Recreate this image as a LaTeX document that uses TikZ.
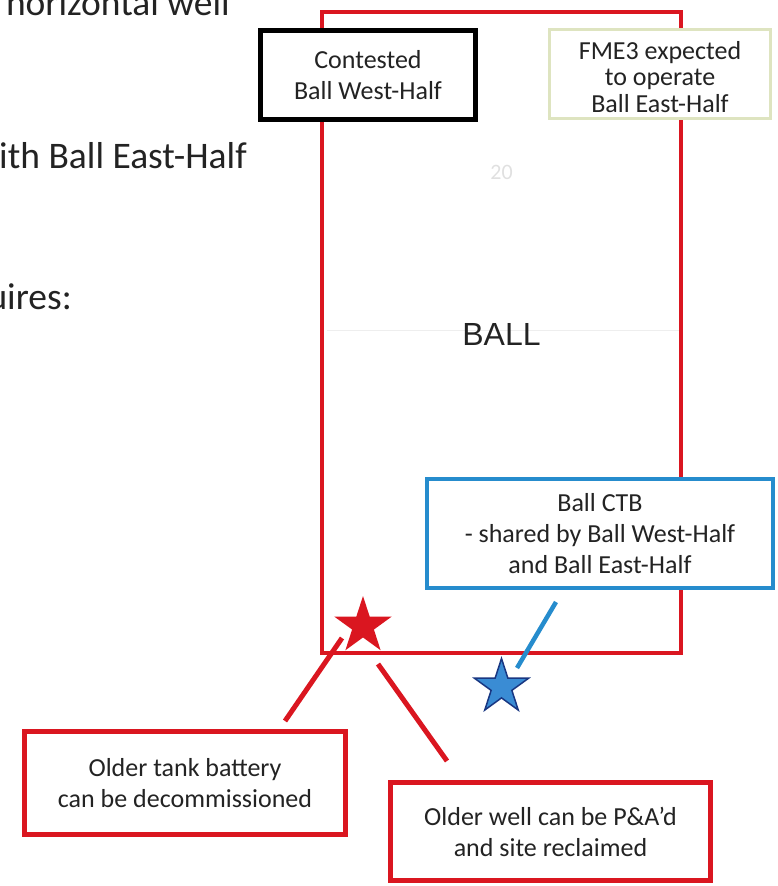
\documentclass[tikz,border=0pt]{standalone}
\usepackage{fontspec}
\setmainfont{Carlito}
\newfontfamily\ballfont{Liberation Sans}
\usetikzlibrary{shapes.geometric}
\definecolor{ballred}{RGB}{218,22,32}
\definecolor{boxblue}{RGB}{38,140,205}
\definecolor{starblue}{RGB}{58,140,212}
\definecolor{starnavy}{RGB}{25,55,130}
\definecolor{fmeborder}{RGB}{222,228,192}
\definecolor{txt}{RGB}{35,35,35}
\definecolor{faint}{RGB}{238,238,238}
\begin{document}
\begin{tikzpicture}[x=1pt,y=-1pt,
  infobox/.style={draw, fill=white, align=center, inner sep=0pt, text=txt,
    font=\fontsize{26}{31}\selectfont},
  sidetext/.style={anchor=base east, text=txt, inner sep=0pt,
    font=\fontsize{37.5}{37.5}\selectfont},
  redlink/.style={draw=ballred, line width=5pt},
  bluelink/.style={draw=boxblue, line width=4.5pt},
  starmark/.style={star, star points=5, star point ratio=2.618, inner sep=0pt}]
\useasboundingbox (0,0) rectangle (778,886);

% left side text (cut off, as in the reference)
\node[sidetext] (t1) at (230,16) {horizontal well};
\node[sidetext] (t2) at (247,168) {ith Ball East-Half};
\node[sidetext] (t3) at (72,309) {uires:};

% BALL tract
\node[draw=ballred, line width=4pt, minimum width=359pt, minimum height=641pt,
      inner sep=0pt] (ballrect) at (501.5,332.5) {};
\draw[faint, line width=1pt] (327,330) -- (679,330);
\node[anchor=base, inner sep=0pt, text=black!12,
      font=\fontsize{22}{22}\selectfont] (num) at (501.5,179) {20};
\node[anchor=base, inner sep=0pt, text=txt,
      font=\ballfont\fontsize{32}{32}\selectfont] (balltext) at (501.5,345) {BALL};

% boxes
\node[infobox, draw=black, line width=5pt, minimum width=215pt, minimum height=89pt]
  (west) at (368,75) {Contested\\Ball West-Half};
\node[infobox, draw=fmeborder, line width=3pt, minimum width=221pt, minimum height=89pt,
      font=\fontsize{26}{26.5}\selectfont]
  (fme) at (660,74) {\rule{0pt}{24pt}FME3 expected\\to operate\\Ball East-Half};
\node[infobox, draw=boxblue, line width=4pt, minimum width=346pt, minimum height=109pt]
  (ctb) at (600,533.5) {Ball CTB\\- shared by Ball West-Half\\and Ball East-Half};
\node[infobox, draw=ballred, line width=5pt, minimum width=321pt, minimum height=103pt]
  (tank) at (185,783) {Older tank battery\\can be decommissioned};
\node[infobox, draw=ballred, line width=5pt, minimum width=320pt, minimum height=98pt]
  (well) at (550.5,831.5) {Older well can be P\&A’d\\and site reclaimed};

% stars
\node[starmark, fill=ballred, minimum size=60pt] (redstar) at (363,626) {};
\node[starmark, fill=starblue, draw=starnavy, line width=1.5pt, minimum size=57pt]
  (bluestar) at (501.5,687) {};

% connectors
\coordinate (r1a) at (342,638);
\coordinate (r1b) at (285,721);
\coordinate (r2a) at (378,664);
\coordinate (r2b) at (447,761);
\coordinate (b1a) at (556,602);
\coordinate (b1b) at (517,668);
\draw[redlink] (r1a) -- (r1b);
\draw[redlink] (r2a) -- (r2b);
\draw[bluelink] (b1a) -- (b1b);
\end{tikzpicture}
\end{document}
